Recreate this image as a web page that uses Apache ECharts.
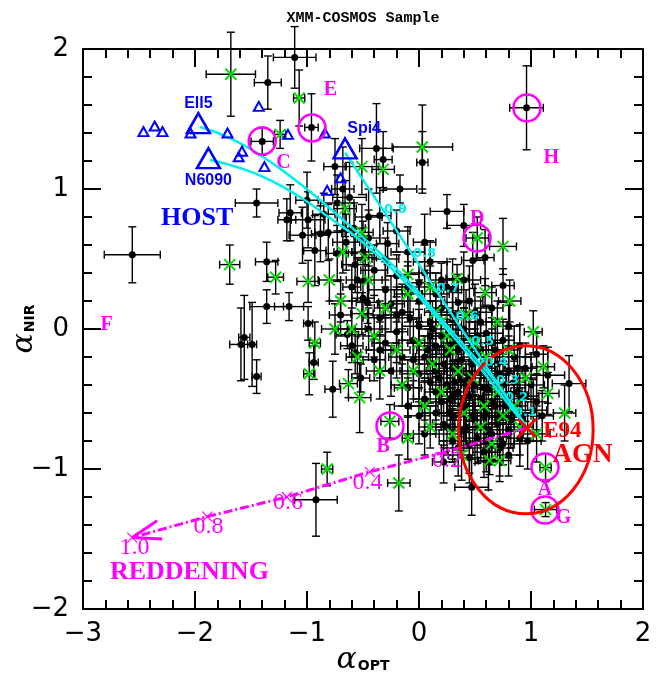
<!DOCTYPE html>
<html><head><meta charset="utf-8">
<script src="https://cdn.jsdelivr.net/npm/echarts@6/dist/echarts.min.js"></script>
<style>html,body{margin:0;padding:0;background:#fff}#c{width:668px;height:679px}</style>
</head><body><div id="c"></div>
<script>
// ---------- DATA (x = alpha_OPT, y = alpha_NIR, xerr, yerr) ----------
const blackPts = [
[-2.56,0.53,0.25,0.20],[-1.35,1.76,0.12,0.19],[-1.11,1.94,0.19,0.22],[-1.40,1.34,0.10,0.10],
[-0.96,1.44,0.06,0.24],[0.96,1.58,0.15,0.30],[-1.45,0.90,0.19,0.10],[-1.36,0.48,0.10,0.14],
[-1.36,0.16,0.15,0.12],[-1.16,0.16,0.13,0.10],[-0.99,0.04,0.04,0.12],[-1.56,-0.06,0.05,0.30],
[-1.59,-0.11,0.10,0.26],[-1.49,-0.11,0.04,0.30],[-1.45,-0.34,0.04,0.12],[-0.94,-0.24,0.04,0.12],
[-0.77,-0.43,0.07,0.20],[-0.64,-0.04,0.10,0.10],[-0.92,-1.22,0.19,0.26],[0.47,-1.13,0.15,0.20],
[0.22,-0.95,0.10,0.15],[1.34,-0.39,0.15,0.20],[0.03,1.19,0.05,0.22],[-0.38,1.29,0.15,0.32],
[-0.32,1.21,0.08,0.20],[-0.17,1.00,0.15,0.10],[0.25,0.84,0.15,0.12],[0.40,0.74,0.15,0.15],
[0.75,0.31,0.10,0.12],[-0.75,1.16,0.10,0.20],[-0.68,1.00,0.10,0.30],[-0.73,0.90,0.15,0.20],
[-0.62,0.94,0.15,0.25],[-1.15,0.83,0.10,0.20],[-1.18,0.78,0.08,0.15],[-1.00,0.92,0.10,0.20],
[-1.04,0.67,0.12,0.20],[-0.99,0.78,0.15,0.20],[-0.93,0.56,0.10,0.25],[-0.88,0.68,0.08,0.20],
[-0.81,0.69,0.12,0.20],[-0.73,0.54,0.10,0.20],[-0.57,0.46,0.12,0.20],[-0.35,0.81,0.10,0.20],
[-0.28,0.61,0.10,0.15],[0.10,0.48,0.15,0.15],[0.48,0.49,0.10,0.20],[0.59,0.51,0.08,0.20],
[0.00,0.33,0.10,0.15],[0.35,0.19,0.12,0.20],[-0.46,0.19,0.10,0.15],[0.00,-0.62,0.10,0.20],
[-0.52,-0.35,0.08,0.10],[-0.57,-0.17,0.05,0.15],
[-0.40,0.42,0.12,0.18],[-0.20,0.38,0.10,0.15],[0.05,0.40,0.15,0.20],[0.20,0.35,0.10,0.12],
[-0.60,0.30,0.08,0.15],[-0.30,0.28,0.15,0.20],[-0.10,0.30,0.10,0.18],[0.15,0.25,0.12,0.15],[0.30,0.28,0.08,0.22],
[-0.50,0.22,0.10,0.12],[-0.25,0.18,0.12,0.20],[0.00,0.20,0.20,0.15],[0.20,0.15,0.10,0.18],[0.45,0.20,0.12,0.25],
[-0.70,0.10,0.10,0.15],[-0.35,0.08,0.15,0.12],[-0.15,0.12,0.10,0.20],[0.10,0.05,0.12,0.15],[0.30,0.10,0.15,0.20],[0.55,0.05,0.10,0.18],
[-0.45,0.00,0.12,0.15],[-0.20,-0.02,0.10,0.22],[0.00,0.02,0.15,0.12],[0.20,-0.05,0.12,0.20],[0.40,0.00,0.10,0.15],[0.60,-0.03,0.15,0.20],[0.80,0.02,0.10,0.15],
[-0.60,-0.12,0.10,0.12],[-0.30,-0.10,0.12,0.20],[-0.05,-0.08,0.10,0.15],[0.15,-0.12,0.15,0.22],[0.30,-0.10,0.10,0.15],[0.45,-0.15,0.12,0.20],[0.65,-0.10,0.10,0.18],[0.90,-0.12,0.15,0.15],
[-0.40,-0.22,0.10,0.15],[-0.15,-0.20,0.12,0.20],[0.05,-0.20,0.10,0.15],[0.25,-0.18,0.15,0.25],[0.38,-0.22,0.10,0.15],[0.50,-0.20,0.12,0.20],[0.70,-0.25,0.10,0.15],[0.85,-0.20,0.15,0.22],[1.05,-0.18,0.10,0.15],
[-0.25,-0.30,0.10,0.18],[0.00,-0.32,0.15,0.20],[0.15,-0.30,0.10,0.15],[0.30,-0.28,0.12,0.22],[0.45,-0.33,0.10,0.18],[0.55,-0.30,0.15,0.20],[0.68,-0.35,0.10,0.15],[0.80,-0.30,0.12,0.25],[0.95,-0.28,0.10,0.18],[1.15,-0.33,0.15,0.20],
[-0.10,-0.42,0.12,0.20],[0.10,-0.38,0.10,0.15],[0.25,-0.40,0.15,0.22],[0.35,-0.45,0.10,0.18],[0.50,-0.40,0.12,0.20],[0.62,-0.43,0.10,0.15],[0.75,-0.40,0.15,0.22],[0.88,-0.45,0.10,0.18],[1.00,-0.40,0.12,0.20],
[0.05,-0.50,0.10,0.15],[0.20,-0.52,0.12,0.20],[0.30,-0.48,0.10,0.25],[0.42,-0.55,0.15,0.18],[0.55,-0.50,0.10,0.20],[0.65,-0.52,0.12,0.15],[0.78,-0.55,0.10,0.22],[0.90,-0.50,0.15,0.18],[1.05,-0.52,0.10,0.20],
[0.15,-0.60,0.12,0.15],[0.30,-0.62,0.10,0.20],[0.40,-0.58,0.15,0.22],[0.50,-0.65,0.10,0.18],[0.60,-0.60,0.12,0.20],[0.72,-0.63,0.10,0.15],[0.85,-0.60,0.15,0.22],[1.10,-0.62,0.10,0.18],
[0.25,-0.70,0.10,0.20],[0.40,-0.72,0.12,0.15],[0.55,-0.70,0.10,0.22],[0.65,-0.75,0.15,0.18],[0.80,-0.72,0.10,0.20],
[0.30,-0.80,0.12,0.15],[0.45,-0.83,0.10,0.20],[0.60,-0.80,0.15,0.22],[0.75,-0.82,0.10,0.15],[0.90,-0.78,0.12,0.20],
[0.45,-0.92,0.10,0.18],[0.62,-0.95,0.12,0.20],[0.80,-0.90,0.10,0.15],
[-0.45,0.65,0.10,0.20],[-0.20,0.70,0.12,0.15],[-0.50,0.55,0.10,0.22],[-0.10,0.55,0.15,0.18],[0.05,0.62,0.10,0.20],[-0.30,0.50,0.12,0.15],
[0.08,-0.15,0.10,0.15],[0.22,-0.25,0.12,0.20],[0.33,-0.05,0.10,0.18],[0.47,-0.25,0.15,0.20],[0.58,-0.42,0.10,0.15],[0.68,-0.15,0.12,0.22],
[0.78,-0.50,0.10,0.18],[0.92,-0.62,0.15,0.20],[0.18,-0.35,0.10,0.15],[0.37,-0.55,0.12,0.22],[0.52,-0.78,0.10,0.18],[0.70,-0.68,0.15,0.20],
[0.85,-0.38,0.10,0.15],[0.97,-0.80,0.12,0.20],[0.28,-0.60,0.10,0.18],[0.62,-0.25,0.15,0.22],[0.42,-0.70,0.10,0.15],[0.12,0.00,0.12,0.20],
[-0.08,0.08,0.10,0.18],[0.50,0.12,0.15,0.20],[0.75,-0.08,0.10,0.15],[1.02,-0.58,0.12,0.22],[0.58,-0.88,0.10,0.18],[0.35,-0.85,0.15,0.20],
[0.05,-0.75,0.10,0.15],[-0.10,-0.55,0.12,0.20],[0.25,0.30,0.10,0.18],[0.40,0.35,0.15,0.20],[0.65,0.15,0.10,0.15],[-0.35,-0.15,0.12,0.20],
[0.35,-0.15,0.12,0.18],[0.52,-0.05,0.10,0.20],[0.72,-0.32,0.12,0.15],[0.58,-0.62,0.10,0.20],[0.45,-0.48,0.12,0.18],[0.32,-0.38,0.10,0.15],
[0.82,-0.65,0.12,0.20],[0.68,-0.55,0.10,0.15],[0.48,-0.62,0.15,0.20],[0.22,-0.68,0.10,0.15],[0.38,-0.12,0.12,0.20],[0.62,-0.72,0.10,0.15],
[0.88,-0.28,0.12,0.18],[0.15,-0.45,0.10,0.20],[0.42,-0.38,0.12,0.15],[0.55,-0.15,0.10,0.18],[0.72,-0.85,0.12,0.20],[0.28,-0.50,0.10,0.15],
[0.95,-0.48,0.12,0.18],[0.65,-0.35,0.10,0.20],[-0.05,-0.22,0.12,0.15],[0.10,-0.05,0.10,0.18],[-0.20,0.10,0.12,0.20],[-0.55,0.35,0.10,0.15],
[-0.65,0.62,0.12,0.20],[-0.85,0.82,0.10,0.15],[-0.45,0.80,0.12,0.20],[-0.58,0.72,0.10,0.18]
];
const greenPts = [
[-1.68,1.82,0.22,0.30],[-1.07,1.65,0.05,0.20],[-1.24,1.39,0.05,0.10],[-1.69,0.46,0.09,0.14],
[-1.28,0.37,0.07,0.12],[-0.99,0.34,0.10,0.15],[-0.82,-1.00,0.05,0.12],[-0.18,-1.10,0.10,0.20],
[0.03,1.30,0.27,0.30],[-0.32,1.14,0.10,0.15],[0.52,0.65,0.10,0.15],[0.75,0.59,0.12,0.20],
[1.13,-0.99,0.05,0.10],[1.13,-1.29,0.10,0.05],[1.30,-0.60,0.10,0.20],[-0.10,-0.78,0.05,0.15],
[-0.26,-0.66,0.08,0.12],[-0.93,-0.10,0.05,0.15],[-0.98,-0.32,0.05,0.15],[-0.63,-0.39,0.08,0.10],
[-0.53,-0.49,0.10,0.25],[-0.51,0.11,0.10,0.15],[-0.66,0.86,0.10,0.20],[-0.51,1.16,0.15,0.20],
[-0.51,0.69,0.10,0.20],[-0.48,0.51,0.10,0.15],[-0.68,0.55,0.08,0.15],[-0.10,0.39,0.10,0.15],
[0.34,0.36,0.10,0.10],[0.59,0.26,0.10,0.10],[0.81,0.20,0.10,0.15],[0.72,-0.94,0.10,0.15],
[0.63,-0.94,0.10,0.10],[1.11,-0.27,0.10,0.15],[1.02,-0.02,0.08,0.15],[1.15,-0.46,0.10,0.15],
[-0.70,0.20,0.10,0.15],[-0.45,0.35,0.12,0.18],[-0.30,0.15,0.10,0.15],[-0.10,0.25,0.12,0.20],[0.10,0.30,0.10,0.15],
[0.20,0.05,0.12,0.18],[-0.40,-0.05,0.10,0.15],[-0.20,-0.15,0.12,0.20],[0.00,-0.10,0.10,0.15],[0.12,-0.25,0.12,0.18],
[0.25,-0.05,0.10,0.15],[0.35,-0.30,0.12,0.20],[0.50,-0.10,0.10,0.15],[0.48,-0.35,0.12,0.18],[0.60,-0.20,0.10,0.15],
[0.70,-0.45,0.12,0.20],[0.80,-0.15,0.10,0.15],[0.85,-0.55,0.12,0.18],[0.95,-0.35,0.10,0.15],[0.40,-0.60,0.12,0.20],
[0.55,-0.70,0.10,0.15],[0.30,-0.75,0.12,0.18],[0.65,-0.82,0.10,0.15],[0.90,-0.70,0.12,0.20],[0.20,-0.45,0.10,0.15],
[0.05,-0.55,0.12,0.18],[-0.15,-0.40,0.10,0.15],[-0.35,-0.30,0.12,0.20],[-0.55,-0.20,0.10,0.15],[-0.75,0.00,0.12,0.18],
[-0.80,0.35,0.10,0.15],[-0.60,0.00,0.12,0.20],[0.15,0.12,0.10,0.15],[0.42,0.10,0.12,0.18],[0.70,0.05,0.10,0.15],
[1.05,-0.75,0.12,0.20],[0.75,-0.62,0.10,0.15],[0.28,-0.15,0.12,0.18],[0.10,-0.70,0.10,0.15],[-0.05,-0.30,0.12,0.20],
[0.58,-0.55,0.10,0.15],[0.38,-0.90,0.12,0.18]
];
// host galaxy templates
const hostSmall = [[-2.46,1.41],[-2.36,1.45],[-2.29,1.41],[-2.04,1.40],[-1.71,1.40],[-1.43,1.59],[-1.17,1.39],
  [-0.84,1.40],[-1.58,1.27],[-1.61,1.23],[-1.38,1.16],[-0.82,0.99],[-0.70,1.08]];
const hostBig = [[-1.97,1.47],[-1.88,1.22],[-0.66,1.29]];
const hostNames = ['Ell5','N6090','Spi4'];
const hostNamePos = [[-1.97,1.61],[-1.88,1.06],[-0.49,1.43]];
// mixing tracks host -> AGN
const trackEll5 = [[-1.955,1.443],[-1.688,1.364],[-1.420,1.243],[-1.152,1.093],[-0.884,0.921],[-0.616,0.736],
  [-0.348,0.543],[-0.080,0.329],[0.188,0.079],[0.455,-0.164],[0.723,-0.421],[0.964,-0.707]];
const trackN6090 = [[-1.866,1.207],[-1.598,1.150],[-1.330,1.064],[-1.063,0.943],[-0.795,0.793],[-0.527,0.636],
  [-0.259,0.443],[0.009,0.221],[0.277,-0.029],[0.545,-0.279],[0.768,-0.507],[0.964,-0.707]];
const trackSpi4 = [[-0.66,1.26],[0.964,-0.707]];
const fracLabels = ['0.9','0.8','0.7','0.6','0.5','0.4','0.3','0.2','0.1'];
const fracPos = [[-0.21,0.85],[0.05,0.54],[0.26,0.29],[0.43,0.09],[0.57,-0.09],[0.69,-0.24],[0.79,-0.37],[0.87,-0.49],[0.95,-0.60]];
// AGN template and reddening vector
const e94 = [0.964,-0.707];
const agnRegion = [0.955,-0.72,0.60,0.60]; // centre x, centre y, radius x, radius y
const reddenEBV = ['0.0','0.2','0.4','0.6','0.8','1.0'];
const reddenX = [0.964,0.23,-0.44,-1.18,-1.89,-2.56];
const reddenY = [-0.707,-0.88,-1.02,-1.20,-1.34,-1.49];
const reddenLabelPos = [[0.25,-0.94],[-0.46,-1.10],[-1.17,-1.24],[-1.88,-1.41],[-2.54,-1.56]];
// marked objects
const circled = [[1.125,-0.986],[-0.259,-0.693],[-1.40,1.343],[0.518,0.65],[-0.955,1.436],[1.125,-1.293],[0.964,1.579]];
const letters = ['A','B','C','D','E','F','G','H'];
const letterPos = [[1.125,-1.15],[-0.32,-0.84],[-1.21,1.19],[0.52,0.79],[-0.79,1.71],[-2.79,0.03],[1.29,-1.35],[1.18,1.22]];
const xTicks = [-3,-2,-1,0,1,2];
const yTicks = [-2,-1,0,1,2];

// ---------- CHART ----------
const MAG = '#ff00ff', CYAN = '#00eeee', BLUE = '#0000ff', RED = '#ff0000', GREEN = '#00dd00';
const fmt = v => String(v).replace('-', '\u2212');
function mkAxis(isX, pos, show) {
  const t = isX ? xTicks : yTicks;
  return {
    type: 'value', position: pos, min: t[0], max: t[t.length - 1], interval: 1,
    axisLine: {onZero: false, lineStyle: {color: '#000', width: 2}},
    axisTick: {inside: true, length: 18, lineStyle: {color: '#000', width: 2}},
    minorTick: {show: true, splitNumber: 5, length: 9, lineStyle: {color: '#000', width: 2}},
    splitLine: {show: false}, minorSplitLine: {show: false},
    axisLabel: {show: show, color: '#000', fontSize: 26, fontFamily: 'DejaVu Sans', margin: isX ? 12 : 14, formatter: fmt}
  };
}
function renderErr(params, api) {
  const x = api.value(0), y = api.value(1), ex = api.value(2), ey = api.value(3);
  const L = api.coord([x - ex, y]), R = api.coord([x + ex, y]);
  const T = api.coord([x, y + ey]), B = api.coord([x, y - ey]);
  const c = 4;
  const ln = (a, b, d, e) => ({type: 'line', shape: {x1: a, y1: b, x2: d, y2: e}, style: {stroke: '#000', lineWidth: 1.4}});
  return {type: 'group', children: [
    ln(L[0], L[1], R[0], R[1]), ln(T[0], T[1], B[0], B[1]),
    ln(L[0], L[1] - c, L[0], L[1] + c), ln(R[0], R[1] - c, R[0], R[1] + c),
    ln(T[0] - c, T[1], T[0] + c, T[1]), ln(B[0] - c, B[1], B[0] + c, B[1])]};
}
function makeX(color, h, lw) {
  return function (params, api) {
    const p = api.coord([api.value(0), api.value(1)]);
    return {type: 'group', children: [
      {type: 'line', shape: {x1: p[0] - h, y1: p[1] - h, x2: p[0] + h, y2: p[1] + h}, style: {stroke: color, lineWidth: lw}},
      {type: 'line', shape: {x1: p[0] - h, y1: p[1] + h, x2: p[0] + h, y2: p[1] - h}, style: {stroke: color, lineWidth: lw}}]};
  };
}
function textSeries(pos, texts, style, z) {
  return {type: 'scatter', symbolSize: 0, z: z || 20, silent: true, itemStyle: {opacity: 1},
    data: pos.map((p, i) => ({value: p, label: {formatter: texts[i]}})),
    label: Object.assign({show: true, position: 'inside', opacity: 1}, style)};
}
const reddenPts = reddenX.map((x, i) => [x, reddenY[i]]);
const n = reddenPts.length;
const nameRich = {a: {fontSize: 30, fontFamily: 'DejaVu Serif', fontStyle: 'italic', color: '#000'},
  s: {fontSize: 14, fontWeight: 'bold', fontFamily: 'DejaVu Sans', color: '#000', verticalAlign: 'bottom', padding: [0, 0, 2, 1]}};

const option = {
  animation: false,
  backgroundColor: '#fff',
  grid: {left: 83, right: 25, top: 49, bottom: 70, containLabel: false, outerBoundsMode: 'none'},
  xAxis: [Object.assign(mkAxis(true, 'bottom', true), {
      name: '{a|\u03b1}{s|OPT}', nameLocation: 'middle', nameGap: 36, nameMoveOverlap: false,
      nameTextStyle: {rich: nameRich}}),
    mkAxis(true, 'top', false)],
  yAxis: [Object.assign(mkAxis(false, 'left', true), {
      name: '{a|\u03b1}{s|NIR}', nameLocation: 'middle', nameGap: 44, nameMoveOverlap: false,
      nameTextStyle: {rich: nameRich}}),
    mkAxis(false, 'right', false)],
  graphic: [{type: 'text', x: 363, y: 18, style: {text: 'XMM-COSMOS Sample', fill: '#000', font: 'bold 15px "Liberation Mono"', textAlign: 'center', textVerticalAlign: 'middle'}}],
  series: [
    {type: 'custom', data: blackPts.concat(greenPts), renderItem: renderErr, encode: {x: 0, y: 1}, z: 2, silent: true},
    {type: 'scatter', data: blackPts.map(p => [p[0], p[1]]), symbol: 'circle', symbolSize: 7, itemStyle: {color: '#000', opacity: 1}, z: 3, silent: true},
    {type: 'custom', data: greenPts.map(p => [p[0], p[1]]), renderItem: makeX(GREEN, 5.5, 2), encode: {x: 0, y: 1}, z: 4, silent: true},
    {type: 'line', data: trackEll5, showSymbol: false, smooth: true, lineStyle: {color: CYAN, width: 2.5}, z: 5, silent: true},
    {type: 'line', data: trackN6090, showSymbol: false, smooth: true, lineStyle: {color: CYAN, width: 2.5}, z: 5, silent: true},
    {type: 'line', data: trackSpi4, showSymbol: false, lineStyle: {color: CYAN, width: 2.5}, z: 5, silent: true},
    {type: 'scatter', data: hostSmall, symbol: 'triangle', symbolSize: [10, 9], z: 6, silent: true,
      itemStyle: {color: 'rgba(0,0,0,0)', borderColor: BLUE, borderWidth: 2, opacity: 1}},
    {type: 'scatter', data: hostBig, symbol: 'triangle', symbolSize: [23, 20], z: 6, silent: true,
      itemStyle: {color: 'rgba(0,0,0,0)', borderColor: BLUE, borderWidth: 2.5, opacity: 1}},
    {type: 'scatter', data: circled, symbol: 'circle', symbolSize: 27, z: 7, silent: true,
      itemStyle: {color: 'rgba(0,0,0,0)', borderColor: MAG, borderWidth: 2.5, opacity: 1}},
    {type: 'line', data: reddenPts, showSymbol: false, z: 8, silent: true,
      lineStyle: {color: MAG, width: 3, type: [9, 3, 2, 3]}},
    {type: 'custom', data: reddenPts.slice(1), renderItem: makeX(MAG, 5, 1.2), encode: {x: 0, y: 1}, z: 8, silent: true},
    {type: 'custom', data: [[reddenX[n - 1], reddenY[n - 1], reddenX[n - 2], reddenY[n - 2]]], encode: {x: 0, y: 1}, z: 8, silent: true,
      renderItem: function (params, api) {
        const tip = api.coord([api.value(0), api.value(1)]), from = api.coord([api.value(2), api.value(3)]);
        const ang = Math.atan2(from[1] - tip[1], from[0] - tip[0]);
        const len = 30, sp = 0.32;
        const mk = a => ({type: 'line', shape: {x1: tip[0], y1: tip[1], x2: tip[0] + len * Math.cos(a), y2: tip[1] + len * Math.sin(a)},
          style: {stroke: MAG, lineWidth: 3}});
        return {type: 'group', children: [mk(ang + sp), mk(ang - sp)]};
      }},
    {type: 'custom', data: [agnRegion], encode: {x: 0, y: 1}, z: 9, silent: true,
      renderItem: function (params, api) {
        const cx = api.value(0), cy = api.value(1), rx = api.value(2), ry = api.value(3);
        const c = api.coord([cx, cy]);
        const px = api.coord([cx + rx, cy])[0] - c[0];
        const py = c[1] - api.coord([cx, cy + ry])[1];
        return {type: 'ellipse', shape: {cx: c[0], cy: c[1], rx: px, ry: py}, style: {fill: 'none', stroke: RED, lineWidth: 3}};
      }},
    {type: 'custom', data: [e94], renderItem: makeX(RED, 9, 3), encode: {x: 0, y: 1}, z: 10, silent: true},
    textSeries(fracPos, fracLabels, {color: CYAN, fontSize: 13, fontWeight: 'bold', fontFamily: 'DejaVu Sans'}),
    textSeries(reddenLabelPos, reddenEBV.slice(1), {color: MAG, fontSize: 24, fontFamily: 'Liberation Serif'}),
    textSeries(letterPos, letters, {color: MAG, fontSize: 20, fontWeight: 'bold', fontFamily: 'Liberation Serif'}),
    textSeries(hostNamePos, hostNames, {color: BLUE, fontSize: 16, fontWeight: 'bold', fontFamily: 'Liberation Sans'}),
    textSeries([[-1.98, 0.79]], ['HOST'], {color: BLUE, fontSize: 26, fontWeight: 'bold', fontFamily: 'Liberation Serif'}),
    textSeries([[-2.05, -1.74]], ['REDDENING'], {color: MAG, fontSize: 26, fontWeight: 'bold', fontFamily: 'Liberation Serif'}),
    textSeries([[1.28, -0.73]], ['E94'], {color: RED, fontSize: 23, fontWeight: 'bold', fontFamily: 'Liberation Serif'}),
    textSeries([[1.46, -0.90]], ['AGN'], {color: RED, fontSize: 27, fontWeight: 'bold', fontFamily: 'Liberation Serif'})
  ]
};
const chart = echarts.init(document.getElementById('c'), null, {renderer: 'canvas'});
chart.setOption(option);
</script>
</body></html>
